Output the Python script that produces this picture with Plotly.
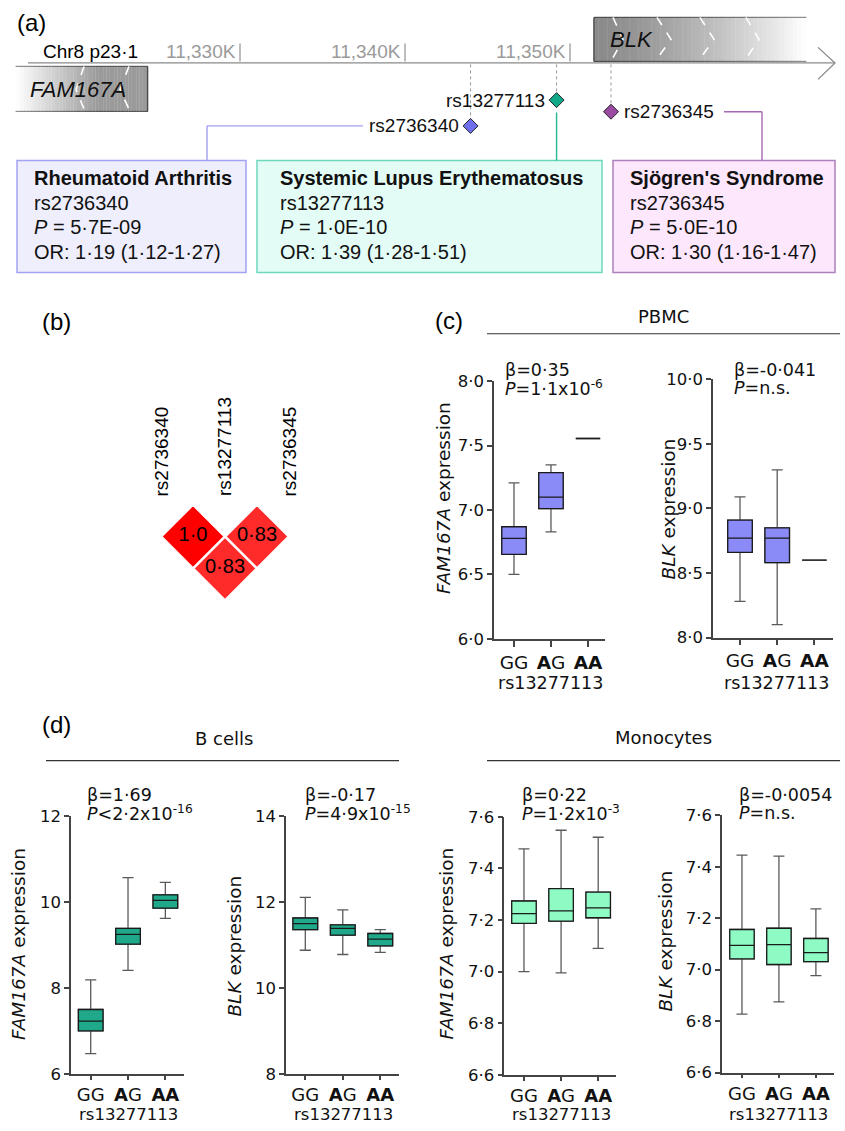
import plotly.graph_objects as go

W, H = 845, 1131
# the photographed page shows up vertically squeezed about its centre; pre-compensate
K = 0.983
CY = H / 2


def Y(y):
    return CY + (y - CY) / K


def px(x):
    return x / W


def py(y):
    return 1 - Y(y) / H


ARIAL = "Liberation Sans, Arial, sans-serif"
VERD = "DejaVu Sans, Verdana, sans-serif"

# ---------------- data ----------------
# (a) locus
chrom_band = "Chr8 p23·1"
gene_names = ["FAM167A", "BLK"]
gene_start = [11316400, 11351450]
gene_end = [11324400, 11364300]
axis_start, axis_end = 11317150, 11366000
axis_ticks = [11330000, 11340000, 11350000]
axis_tick_labels = ["11,330K", "11,340K", "11,350K"]

snp_ids = ["rs2736340", "rs13277113", "rs2736345"]
snp_pos = [11343973, 11349186, 11352485]
snp_colors = ["#6f6ff0", "#12a888", "#9a4aa2"]

disease_names = ["Rheumatoid Arthritis", "Systemic Lupus Erythematosus", "Sjögren's Syndrome"]
disease_snp = ["rs2736340", "rs13277113", "rs2736345"]
disease_p = ["5·7E-09", "1·0E-10", "5·0E-10"]
disease_or = ["1·19 (1·12-1·27)", "1·39 (1·28-1·51)", "1·30 (1·16-1·47)"]

# (b) LD (r2)
ld_i = [0, 1, 0]
ld_j = [1, 2, 2]
ld_r2 = [1.0, 0.83, 0.83]
ld_text = ["1·0", "0·83", "0·83"]

# (c)/(d) eQTL box plots
genotypes = ["GG", "AG", "AA"]
genotype_labels = ["GG", "<b>A</b>G", "<b>AA</b>"]

pbmc_fam_low = [6.50, 6.83, 7.555]
pbmc_fam_q1 = [6.655, 7.01, 7.555]
pbmc_fam_med = [6.78, 7.10, 7.555]
pbmc_fam_q3 = [6.87, 7.29, 7.555]
pbmc_fam_high = [7.21, 7.35, 7.555]

pbmc_blk_low = [8.28, 8.10, 8.60]
pbmc_blk_q1 = [8.66, 8.58, 8.60]
pbmc_blk_med = [8.77, 8.77, 8.60]
pbmc_blk_q3 = [8.91, 8.85, 8.60]
pbmc_blk_high = [9.09, 9.30, 8.60]

bcell_fam_low = [6.47, 8.41, 9.62]
bcell_fam_q1 = [7.00, 9.02, 9.86]
bcell_fam_med = [7.23, 9.25, 10.04]
bcell_fam_q3 = [7.50, 9.39, 10.17]
bcell_fam_high = [8.19, 10.57, 10.46]

bcell_blk_low = [10.88, 10.78, 10.83]
bcell_blk_q1 = [11.36, 11.23, 10.98]
bcell_blk_med = [11.50, 11.39, 11.14]
bcell_blk_q3 = [11.63, 11.47, 11.27]
bcell_blk_high = [12.11, 11.82, 11.36]

mono_fam_low = [7.00, 6.995, 7.09]
mono_fam_q1 = [7.187, 7.196, 7.209]
mono_fam_med = [7.225, 7.236, 7.247]
mono_fam_q3 = [7.274, 7.322, 7.308]
mono_fam_high = [7.476, 7.548, 7.521]

mono_blk_low = [6.827, 6.875, 6.977]
mono_blk_q1 = [7.042, 7.020, 7.031]
mono_blk_med = [7.094, 7.097, 7.066]
mono_blk_q3 = [7.156, 7.161, 7.121]
mono_blk_high = [7.445, 7.441, 7.236]

stat_beta = ["β=0·35", "β=-0·041", "β=1·69", "β=-0·17", "β=0·22", "β=-0·0054"]
stat_p = ["<i>P</i>=1·1x10<sup>-6</sup>", "<i>P</i>=n.s.", "<i>P</i>&lt;2·2x10<sup>-16</sup>",
          "<i>P</i>=4·9x10<sup>-15</sup>", "<i>P</i>=1·2x10<sup>-3</sup>", "<i>P</i>=n.s."]

pbmc_fam_ticks = [6.0, 6.5, 7.0, 7.5, 8.0]
pbmc_fam_ticktext = ["6·0", "6·5", "7·0", "7·5", "8·0"]
pbmc_blk_ticks = [8.0, 8.5, 9.0, 9.5, 10.0]
pbmc_blk_ticktext = ["8·0", "8·5", "9·0", "9·5", "10·0"]
bcell_fam_ticks = [6, 8, 10, 12]
bcell_fam_ticktext = ["6", "8", "10", "12"]
bcell_blk_ticks = [8, 10, 12, 14]
bcell_blk_ticktext = ["8", "10", "12", "14"]
mono_ticks = [6.6, 6.8, 7.0, 7.2, 7.4, 7.6]
mono_ticktext = ["6·6", "6·8", "7·0", "7·2", "7·4", "7·6"]

# ---------------- figure ----------------
fig = go.Figure()
shapes = []
anns = []


def line_px(x0, y0, x1, y1, color="#333", width=1.2, dash="solid", layer="above"):
    shapes.append(dict(type="line", xref="paper", yref="paper", x0=px(x0), y0=py(y0),
                       x1=px(x1), y1=py(y1), line=dict(color=color, width=width, dash=dash),
                       layer=layer))


def text_px(text, x, y, size, font=ARIAL, color="black", xanchor="center", yanchor="middle",
            angle=0, align="left"):
    anns.append(dict(text=text, x=px(x), y=py(y), xref="paper", yref="paper", showarrow=False,
                     xanchor=xanchor, yanchor=yanchor, textangle=angle, align=align,
                     font=dict(family=font, size=size, color=color)))


# genomic axis mapping (x axis 'x'): 11,330K at 240 px, 0.0165 px per bp
G0, SC = 11330000, 0.0165
g_range = [G0 - 240 / SC, G0 + (W - 240) / SC]

# ---- Panel (a) ----
text_px("(a)", 15, 23, 24, xanchor="left")
text_px(chrom_band, 41, 52, 19, xanchor="left")


def mix(c0, c1, t):
    return tuple(int(round(a + (b - a) * t)) for a, b in zip(c0, c1))


N = 48
for gi, name in enumerate(gene_names):
    s, e = gene_start[gi], gene_end[gi]
    if name == "BLK":
        y_top, y_bot = 18, 62
    else:
        y_top, y_bot = 67, 112
    for k in range(N):
        t = (k + 0.5) / N
        if name == "BLK":
            tt = t ** 1.4
            c = mix((138, 138, 138), (255, 255, 255), tt)
        else:
            tt = min(1.0, t / 0.62)
            c = mix((255, 255, 255), (155, 155, 155), tt)
        xa = s + (e - s) * k / N
        xb = s + (e - s) * (k + 1) / N + (e - s) * 0.002
        col = "rgb(%d,%d,%d)" % c
        shapes.append(dict(type="rect", xref="x", yref="paper", x0=xa, x1=xb, y0=py(y_bot), y1=py(y_top),
                           fillcolor=col, line=dict(width=0), layer="below"))
        dc = "rgb(%d,%d,%d)" % tuple(int(v * 0.55) for v in c)
        for yy in (y_top, y_bot):
            shapes.append(dict(type="line", xref="x", yref="paper", x0=xa, x1=xb, y0=py(yy), y1=py(yy),
                               line=dict(color=dc, width=1.2), layer="below"))
    edge_x = s if name == "BLK" else e
    shapes.append(dict(type="line", xref="x", yref="paper", x0=edge_x, x1=edge_x, y0=py(y_bot), y1=py(y_top),
                       line=dict(color="#4a4a4a", width=1.4), layer="below"))

# chevrons (strand direction)
for tx, ax in [(613, 623), (657, 671), (700, 714), (746, 759)]:
    shapes.append(dict(type="path", xref="paper", yref="paper",
                       path="M %f,%f L %f,%f L %f,%f" % (px(tx), py(18), px(ax), py(40), px(tx - 2), py(62)),
                       line=dict(color="white", width=1.6, dash="dash"), layer="below"))
for tx, ax in [(84, 76), (129, 120)]:
    shapes.append(dict(type="path", xref="paper", yref="paper",
                       path="M %f,%f L %f,%f L %f,%f" % (px(tx), py(67), px(ax), py(90), px(tx + 1), py(112)),
                       line=dict(color="white", width=1.6, dash="dash"), layer="below"))

anns.append(dict(text="<i>BLK</i>", x=gene_start[1], y=py(40), xref="x", yref="paper", xanchor="left",
                 yanchor="middle", xshift=14, showarrow=False,
                 font=dict(family=ARIAL, size=22, color="#111")))
anns.append(dict(text="<i>FAM167A</i>", x=gene_start[0], y=py(90), xref="x", yref="paper", xanchor="left",
                 yanchor="middle", xshift=12, showarrow=False,
                 font=dict(family=ARIAL, size=22, color="#111")))

# genomic axis line + arrow head
shapes.append(dict(type="line", xref="x", yref="paper", x0=axis_start, x1=axis_end, y0=py(63.5), y1=py(63.5),
                   line=dict(color="#8a8a8a", width=1.3)))
shapes.append(dict(type="path", xref="paper", yref="paper",
                   path="M %f,%f L %f,%f L %f,%f" % (px(818), py(48), px(835), py(63.5), px(818), py(80)),
                   line=dict(color="#8a8a8a", width=1.3)))
for tv, tl in zip(axis_ticks, axis_tick_labels):
    shapes.append(dict(type="line", xref="x", yref="paper", x0=tv, x1=tv, y0=py(62), y1=py(44),
                       line=dict(color="#9a9a9a", width=1.3)))
    anns.append(dict(text=tl, x=tv, y=py(52), xref="x", yref="paper", xanchor="right", yanchor="middle",
                     xshift=-2, showarrow=False, font=dict(family=ARIAL, size=19, color="#9a9a9a")))

# SNP markers (y axis 'y' is a pixel canvas of the reference)
snp_row_y = [126.5, 100.7, 112.3]
for p, yy in zip(snp_pos, snp_row_y):
    shapes.append(dict(type="line", xref="x", yref="paper", x0=p, x1=p, y0=py(65), y1=py(yy - 7),
                       line=dict(color="#9a9a9a", width=1, dash="dot"), layer="below"))
fig.add_trace(go.Scatter(x=snp_pos, y=snp_row_y, xaxis="x", yaxis="y", mode="markers",
                         marker=dict(symbol="diamond", size=11.5, color=snp_colors,
                                     line=dict(color="#222", width=1)),
                         hoverinfo="skip", showlegend=False, cliponaxis=False))
for sid, p, yy in zip(snp_ids, snp_pos, snp_row_y):
    right = sid != "rs2736345"
    anns.append(dict(text=sid, x=p, y=py(yy), xref="x", yref="paper",
                     xanchor="right" if right else "left", yanchor="middle",
                     xshift=-10 if right else 11,
                     showarrow=False, font=dict(family=ARIAL, size=19, color="#111")))

# connector lines
line_px(207, 126.5, 363, 126.5, color="#a0a0f4", width=1.4)
line_px(207, 126.5, 207, 161, color="#a0a0f4", width=1.4)
shapes.append(dict(type="line", xref="x", yref="paper", x0=snp_pos[1], x1=snp_pos[1], y0=py(113), y1=py(161),
                   line=dict(color="#22b894", width=1.4)))
line_px(724, 112.3, 762, 112.3, color="#a468b4", width=1.4)
line_px(762, 112.3, 762, 161, color="#a468b4", width=1.4)

# disease boxes
box_x = [(17, 246), (257, 602), (613, 835)]
box_text_x = [32, 278, 628]
box_fill = ["#eeeefd", "#e4fcf6", "#fde7fd"]
box_line = ["#a3a3f3", "#6ed8bd", "#ae80be"]
for (x0, x1), tx, fc, lc, dn, ds, dp, do in zip(box_x, box_text_x, box_fill, box_line, disease_names,
                                                disease_snp, disease_p, disease_or):
    shapes.append(dict(type="rect", xref="paper", yref="paper", x0=px(x0), x1=px(x1), y0=py(273), y1=py(161),
                       fillcolor=fc, line=dict(color=lc, width=1.5), layer="below"))
    lines = ["<b>%s</b>" % dn, ds, "<i>P</i> = %s" % dp, "OR: %s" % do]
    for tl, yy in zip(lines, [179, 203.5, 228, 252.5]):
        text_px(tl, tx, yy, 20, xanchor="left", yanchor="middle", color="#111")

# ---- Panel (b) LD ----
text_px("(b)", 40, 322, 24, xanchor="left")
ld_x = [(a + b) / 2 for a, b in zip(ld_i, ld_j)]
ld_y = [b - a for a, b in zip(ld_i, ld_j)]
fig.add_trace(go.Scatter(x=ld_x, y=ld_y, xaxis="x2", yaxis="y2", mode="markers+text",
                         text=ld_text, textposition="middle center",
                         textfont=dict(family=ARIAL, size=20, color="black"),
                         marker=dict(symbol="diamond", size=48, color=ld_r2,
                                     colorscale=[[0, "#ffffff"], [1, "#ff0000"]], cmin=0, cmax=1,
                                     line=dict(color="white", width=1.5)),
                         hoverinfo="skip", showlegend=False, cliponaxis=False))
for k, sid in enumerate(snp_ids):
    anns.append(dict(text=sid, x=k, y=py(499), xref="x2", yref="paper", xanchor="center", yanchor="bottom",
                     textangle=-90, showarrow=False, font=dict(family=ARIAL, size=19, color="black")))

# ---- Panels (c)/(d) box plots ----
text_px("(c)", 433, 321, 24, xanchor="left")
text_px("(d)", 40, 725, 24, xanchor="left")
text_px("PBMC", 663, 317, 18, font=VERD, color="#111")
line_px(487, 334.3, 840, 334.3, color="#333", width=1.2)
text_px("B cells", 224, 739, 18, font=VERD, color="#111")
line_px(46, 761, 399, 761, color="#333", width=1.2)
text_px("Monocytes", 663, 737.5, 18, font=VERD, color="#111")
line_px(487, 761, 840, 761, color="#333", width=1.2)

panels = [
    dict(stats=(pbmc_fam_low, pbmc_fam_q1, pbmc_fam_med, pbmc_fam_q3, pbmc_fam_high), color="#8b8bf8",
         x0=494, x1=605, xr=[-0.54, 2.46], ytop=381.7, ybot=639.3, yr=[6, 8],
         tv=pbmc_fam_ticks, tt=pbmc_fam_ticktext, ytitle="<i>FAM167A</i> expression",
         yt=(444, 498.5), xt=(550, 683), st=(503, 370.5, 389), tl=6),
    dict(stats=(pbmc_blk_low, pbmc_blk_q1, pbmc_blk_med, pbmc_blk_q3, pbmc_blk_high), color="#8b8bf8",
         x0=713, x1=833, xr=[-0.726, 2.5], ytop=380, ybot=638, yr=[8, 10],
         tv=pbmc_blk_ticks, tt=pbmc_blk_ticktext, ytitle="<i>BLK</i> expression",
         yt=(668, 510), xt=(776.7, 683), st=(731.7, 370.5, 389), tl=6),
    dict(stats=(bcell_fam_low, bcell_fam_q1, bcell_fam_med, bcell_fam_q3, bcell_fam_high), color="#1fa98a",
         x0=71, x1=184, xr=[-0.528, 2.5], ytop=816.7, ybot=1074.3, yr=[6, 12],
         tv=bcell_fam_ticks, tt=bcell_fam_ticktext, ytitle="<i>FAM167A</i> expression",
         yt=(18.3, 944), xt=(128.3, 1114.5), st=(85, 795, 813.5), tl=4),
    dict(stats=(bcell_blk_low, bcell_blk_q1, bcell_blk_med, bcell_blk_q3, bcell_blk_high), color="#1fa98a",
         x0=286, x1=399, xr=[-0.515, 2.5], ytop=816.7, ybot=1074.3, yr=[8, 14],
         tv=bcell_blk_ticks, tt=bcell_blk_ticktext, ytitle="<i>BLK</i> expression",
         yt=(235, 946), xt=(343.3, 1114.5), st=(302.7, 795, 813.5), tl=4),
    dict(stats=(mono_fam_low, mono_fam_q1, mono_fam_med, mono_fam_q3, mono_fam_high), color="#8efbc4",
         x0=504.3, x1=616, xr=[-0.53, 2.48], ytop=817.3, ybot=1075.3, yr=[6.6, 7.6],
         tv=mono_ticks, tt=mono_ticktext, ytitle="<i>FAM167A</i> expression",
         yt=(447, 944), xt=(561.7, 1114.5), st=(520, 795, 813.5), tl=4),
    dict(stats=(mono_blk_low, mono_blk_q1, mono_blk_med, mono_blk_q3, mono_blk_high), color="#8efbc4",
         x0=722, x1=834, xr=[-0.54, 2.49], ytop=815.7, ybot=1073, yr=[6.6, 7.6],
         tv=mono_ticks, tt=mono_ticktext, ytitle="<i>BLK</i> expression",
         yt=(666, 942), xt=(778.3, 1114.5), st=(736.7, 795, 813.5), tl=4),
]

layout_axes = {}
for n, pnl in enumerate(panels):
    k = n + 3
    xa, ya = "x%d" % k, "y%d" % k
    low, q1, med, q3, high = pnl["stats"]
    bottom_row = pnl["ybot"] > 1000
    # whiskers (grey)
    fig.add_trace(go.Box(x=genotypes, q1=q1, median=med, q3=q3, lowerfence=low, upperfence=high,
                         xaxis=xa, yaxis=ya, width=0.66, whiskerwidth=0.45, fillcolor=pnl["color"],
                         line=dict(color="#5a5a5a", width=1.3), boxpoints=False, hoverinfo="skip",
                         showlegend=False))
    # box body (black outline)
    fig.add_trace(go.Box(x=genotypes, q1=q1, median=med, q3=q3, lowerfence=q1, upperfence=q3,
                         xaxis=xa, yaxis=ya, width=0.66, whiskerwidth=0, fillcolor=pnl["color"],
                         line=dict(color="#1a1a1a", width=1.3), boxpoints=False, hoverinfo="skip",
                         showlegend=False))
    layout_axes["xaxis%d" % k] = dict(domain=[px(pnl["x0"]), px(pnl["x1"])], anchor=ya, type="category",
                                      categoryorder="array", categoryarray=genotypes, range=pnl["xr"],
                                      tickvals=genotypes, ticktext=genotype_labels, showline=True,
                                      linecolor="#444", linewidth=1.5, ticks="outside", ticklen=pnl["tl"],
                                      tickwidth=1.5, tickcolor="#444", showgrid=False, zeroline=False,
                                      tickfont=dict(family=VERD, size=18 if bottom_row else 18.5, color="#111"),
                                      fixedrange=True)
    layout_axes["yaxis%d" % k] = dict(domain=[py(pnl["ybot"]), py(pnl["ytop"])], anchor=xa, range=pnl["yr"],
                                      tickvals=pnl["tv"], ticktext=pnl["tt"], showline=True,
                                      linecolor="#444", linewidth=1.5, ticks="outside", ticklen=5,
                                      tickwidth=1.5, tickcolor="#444", showgrid=False, zeroline=False,
                                      tickfont=dict(family=VERD, size=16.5, color="#111"), fixedrange=True)
    text_px(pnl["ytitle"], pnl["yt"][0], pnl["yt"][1], 18.5, font=VERD, color="#111", angle=-90)
    text_px("rs13277113", pnl["xt"][0], pnl["xt"][1], 16.5 if bottom_row else 17.5, font=VERD, color="#111")
    text_px(stat_beta[n], pnl["st"][0], pnl["st"][1], 17.5, font=VERD, color="#111", xanchor="left")
    text_px(stat_p[n], pnl["st"][0], pnl["st"][2], 17.5, font=VERD, color="#111", xanchor="left")

# canvas y axis: values are reference-picture pixels
canvas_range = [CY + (H - CY) * K, CY + (0 - CY) * K]

fig.update_layout(
    width=W, height=H, autosize=False,
    margin=dict(l=0, r=0, t=0, b=0, pad=0),
    paper_bgcolor="white", plot_bgcolor="rgba(0,0,0,0)",
    showlegend=False, boxmode="overlay",
    xaxis=dict(domain=[0, 1], range=g_range, visible=False, fixedrange=True),
    yaxis=dict(domain=[0, 1], range=canvas_range, visible=False, fixedrange=True),
    xaxis2=dict(domain=[px(97), px(353)], range=[-1, 3], visible=False, anchor="y2", fixedrange=True),
    yaxis2=dict(domain=[py(633), py(473)], range=[4, -1], visible=False, anchor="x2", fixedrange=True),
    shapes=shapes, annotations=anns,
    **layout_axes,
)

fig.write_html("out.html", config={"displayModeBar": False},
               post_script="document.body.style.margin='0px';document.body.style.padding='0px';")
